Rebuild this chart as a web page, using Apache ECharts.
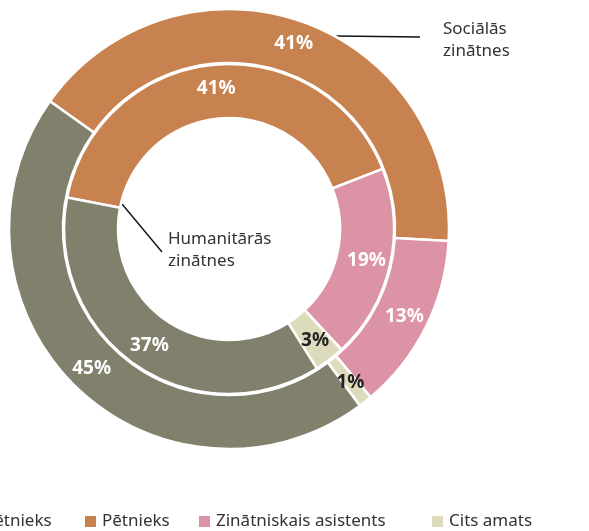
<!DOCTYPE html>
<html>
<head>
<meta charset="utf-8">
<script src="https://cdn.jsdelivr.net/npm/echarts@6/dist/echarts.min.js"></script>
<style>
html, body { margin: 0; padding: 0; background: #fff; }
#chart { width: 589px; height: 531px; }
</style>
</head>
<body>
<div id="chart"></div>
<script>
// kategorijas un vērtības (%)
const categories = ['Pētnieks', 'Zinātniskais asistents', 'Cits amats', 'Vadošais pētnieks'];
const colors = ['#c8824f', '#dd93a6', '#dedbbd', '#80806c'];
const socialValues = [41, 13, 1, 45];   // Sociālās zinātnes (ārējais gredzens)
const humanValues = [41, 19, 3, 37];    // Humanitārās zinātnes (iekšējais gredzens)
const legendOrder = ['Vadošais pētnieks', 'Pētnieks', 'Zinātniskais asistents', 'Cits amats'];
const legendLeft = [-110, 83, 197, 430];

var myChart = echarts.init(document.getElementById('chart'));
var font = 'Noto Sans';

function makeData(values) {
    return values.map(function (v, i) {
        return {
            name: categories[i],
            value: v,
            itemStyle: { color: colors[i] },
            label: { color: categories[i] === 'Cits amats' ? '#222' : '#fff' }
        };
    });
}

var labelStyle = {
    show: true,
    position: 'inside',
    formatter: '{c}%',
    fontFamily: font,
    fontSize: 19,
    fontWeight: 'bold'
};

var option = {
    animation: false,
    textStyle: { fontFamily: font },
    legend: legendOrder.map(function (name, i) {
        return {
            data: [name],
            left: legendLeft[i],
            top: 513,
            padding: 0,
            icon: 'rect',
            itemWidth: 13,
            itemHeight: 13,
            itemGap: 6,
            selectedMode: false,
            textStyle: { fontFamily: font, fontSize: 17, color: '#333' }
        };
    }),
    graphic: [
        // Sociālās zinātnes piezīme
        { type: 'line', shape: { x1: 336, y1: 36, x2: 420, y2: 37 }, style: { stroke: '#111', lineWidth: 1.4 } },
        { type: 'text', left: 443, top: 18, style: { text: 'Sociālās\nzinātnes', fontFamily: font, fontSize: 17, lineHeight: 22, fill: '#333' } },
        // Humanitārās zinātnes piezīme
        { type: 'line', shape: { x1: 122, y1: 204, x2: 162, y2: 252 }, style: { stroke: '#111', lineWidth: 1.4 } },
        { type: 'text', left: 168, top: 228, style: { text: 'Humanitārās\nzinātnes', fontFamily: font, fontSize: 17, lineHeight: 22, fill: '#333' } }
    ],
    series: [
        {
            name: 'Sociālās zinātnes',
            type: 'pie',
            center: [229, 229],
            radius: [166, 220],
            startAngle: 144.5,
            clockwise: true,
            label: labelStyle,
            labelLine: { show: false },
            itemStyle: { borderColor: '#fff', borderWidth: 2.5 },
            emphasis: { disabled: true },
            data: makeData(socialValues)
        },
        {
            name: 'Humanitārās zinātnes',
            type: 'pie',
            center: [229, 229],
            radius: [111, 165],
            startAngle: 169,
            clockwise: true,
            label: labelStyle,
            labelLine: { show: false },
            itemStyle: { borderColor: '#fff', borderWidth: 2.5 },
            emphasis: { disabled: true },
            data: makeData(humanValues)
        }
    ]
};
myChart.setOption(option);
</script>
</body>
</html>
